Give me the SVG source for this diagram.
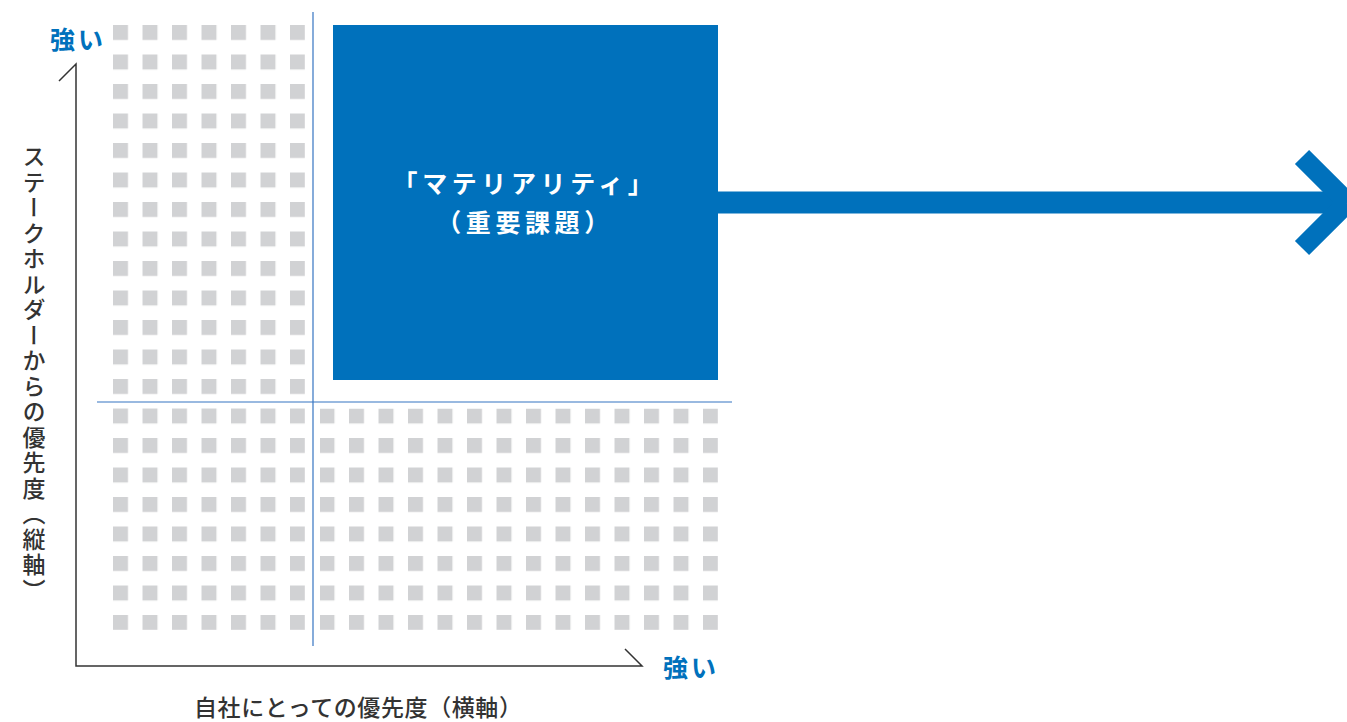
<svg xmlns="http://www.w3.org/2000/svg" width="1347" height="722" viewBox="0 0 1347 722">
  <style>
    .jp { font-family: "Noto Sans CJK JP", "Noto Sans", sans-serif; }
    .strong { font-weight: bold; fill: #0071bc; font-size: 25px; letter-spacing: 3px; }
    .axis-label { fill: #333333; font-size: 23px; font-weight: 500; }
    .box-text { fill: #ffffff; font-weight: bold; font-size: 25px; letter-spacing: 4.6px; }
    .qline { stroke: #3574c2; stroke-width: 1.2; fill: none; }
    .axis { stroke: #333333; stroke-width: 1.5; fill: none; }
  </style>
  <defs>
    <pattern id="dots" patternUnits="userSpaceOnUse" x="113" y="25" width="29.5" height="29.5">
      <rect x="0" y="0" width="15" height="15" fill="#d1d2d4"/>
    </pattern>
  </defs>
  <rect width="1347" height="722" fill="#ffffff"/>

  <g id="grid">
    <rect x="113" y="25" width="192" height="605" fill="url(#dots)"/>
    <rect x="320" y="408.5" width="398" height="221.5" fill="url(#dots)"/>
  </g>

  <g id="quadrant-lines">
    <line class="qline" x1="313" y1="12" x2="313" y2="646"/>
    <line class="qline" x1="97" y1="402" x2="732" y2="402"/>
  </g>

  <g id="axes">
    <path class="axis" d="M59,81 L76,64 L76,666 L642,666 L625,649"/>
  </g>

  <g id="labels" class="jp">
    <text id="strong-y" class="jp strong" x="50" y="49">強い</text>
    <text id="strong-x" class="jp strong" x="663" y="677">強い</text>
    <text id="label-x" class="jp axis-label" x="194" y="716" style="letter-spacing: 0.6px;">自社にとっての優先度（横軸）</text>
    <text id="label-y" class="jp axis-label" x="34" y="145" style="writing-mode: vertical-rl; letter-spacing: 2.5px;">ステークホルダーからの優先度（縦軸）</text>
  </g>

  <g id="materiality">
    <rect x="333" y="25" width="385" height="355" fill="#0071bc"/>
    <text class="jp box-text" x="525" y="193" text-anchor="middle">「マテリアリティ」</text>
    <text class="jp box-text" x="525" y="232" text-anchor="middle">（重要課題）</text>
  </g>

  <g id="connectors">
    <rect x="718" y="191.5" width="620" height="22" fill="#0071bc"/>
    <polyline points="1302,157 1347.5,202.5 1302,248" fill="none" stroke="#0071bc" stroke-width="20" stroke-linejoin="miter" stroke-linecap="butt"/>
  </g>
</svg>
